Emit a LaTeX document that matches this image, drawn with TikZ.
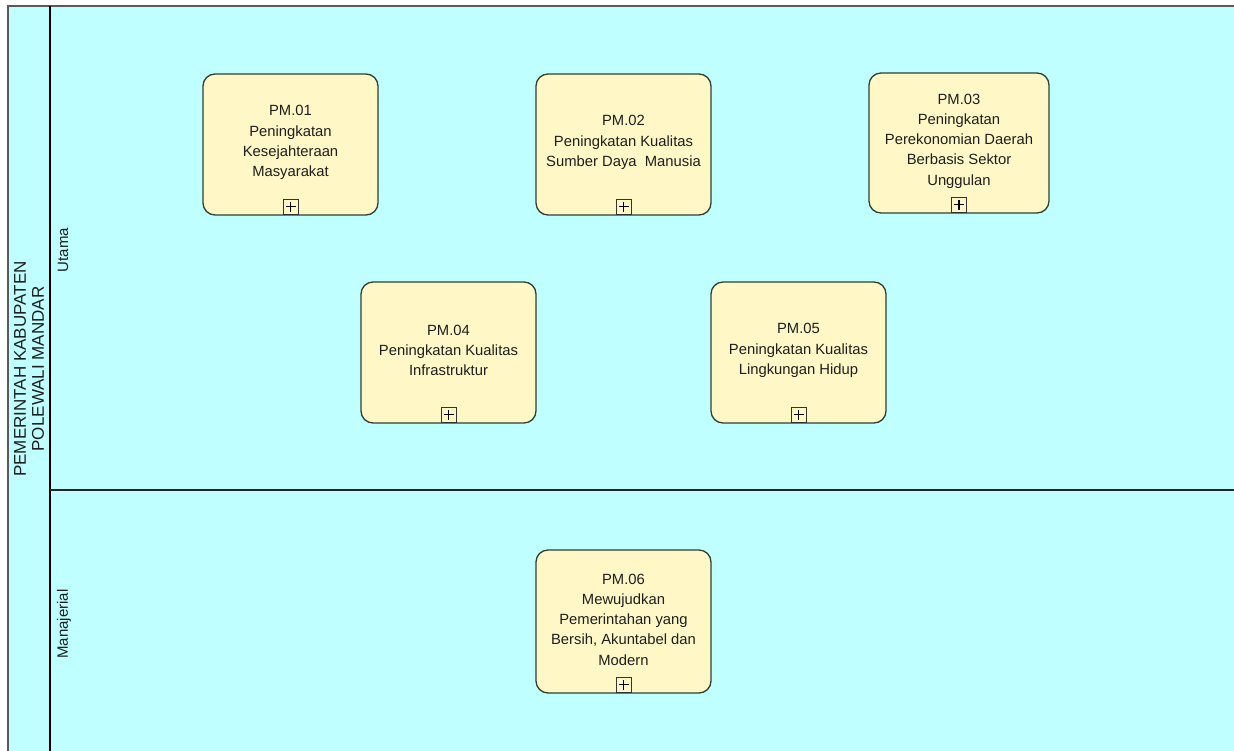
\documentclass[tikz,border=0pt]{standalone}
\usepackage{fontspec}
\setmainfont{Liberation Sans}
\definecolor{poolbg}{HTML}{BFFFFF}
\definecolor{boxfill}{HTML}{FFF8C6}
\definecolor{boxline}{HTML}{2F3F35}
\definecolor{txt}{HTML}{1E1E1E}
\begin{document}
\begin{tikzpicture}[x=1pt,y=-1pt,
  task/.style={draw=boxline,line width=1.3pt,fill=boxfill,rounded corners=12pt},
  tasktext/.style={align=center,text=txt,font=\fontsize{14.8}{20.2}\selectfont,inner sep=0pt},
  plusbox/.style={draw=black!80,line width=1pt,fill=boxfill,minimum width=15pt,minimum height=15pt,inner sep=0pt},
  lanelabel/.style={rotate=90,text=txt,font=\fontsize{15}{15}\selectfont,align=center,inner sep=0pt},
  poollabel/.style={rotate=90,text=txt,font=\fontsize{17}{18}\selectfont,align=center,inner sep=0pt}]
\useasboundingbox (0,0) rectangle (1234,750);
\clip (0,0) rectangle (1234,750);
\fill[white] (0,0) rectangle (1234,750);
% pool
\fill[poolbg] (8,6) rectangle (1250,760);
\draw[draw=black!65,line width=1.2pt] (1250,6) -- (8,6) -- (8,760);
\coordinate (vtop) at (50,6);
\coordinate (vbot) at (50,760);
\draw[line width=2.2pt,black] (vtop) -- (vbot);
\coordinate (hl) at (50,490);
\coordinate (hr) at (1250,490);
\draw[line width=1.4pt,black!85] (hl) -- (hr);
% labels
\node[poollabel] (pool) at (29,369) {PEMERINTAH KABUPATEN\\POLEWALI MANDAR};
\node[lanelabel] (utama) at (63,250) {Utama};
\node[lanelabel] (manaj) at (64,624) {Manajerial};
% tasks
\newcommand{\task}[6]{%
  \draw[task] (#2,#3) rectangle (#4,#5);
  \node[tasktext] (#1) at ({(#2+#4)/2},{(#3+#5)/2-2}) {#6};
  \node[plusbox] (#1p) at ({(#2+#4)/2},{#5-8.5}) {};
  \draw[line width=1.3pt,black] ([yshift=-3pt]#1p.north) -- ([yshift=3pt]#1p.south) ([xshift=3pt]#1p.west) -- ([xshift=-3pt]#1p.east);
}
\task{pm1}{203}{74}{378}{215}{PM.01\\Peningkatan\\Kesejahteraan\\Masyarakat}
\task{pm2}{536}{74}{711}{215}{PM.02\\Peningkatan Kualitas\\Sumber Daya\ \ Manusia}
\task{pm3}{869}{73}{1049}{213}{PM.03\\Peningkatan\\Perekonomian Daerah\\Berbasis Sektor\\Unggulan}
\task{pm4}{361}{282}{536}{423}{PM.04\\Peningkatan Kualitas\\Infrastruktur}
\task{pm5}{711}{282}{886}{423}{PM.05\\Peningkatan Kualitas\\Lingkungan Hidup}
\task{pm6}{536}{550}{711}{693}{PM.06\\Mewujudkan\\Pemerintahan yang\\Bersih, Akuntabel dan\\Modern}
\end{tikzpicture}
\end{document}
